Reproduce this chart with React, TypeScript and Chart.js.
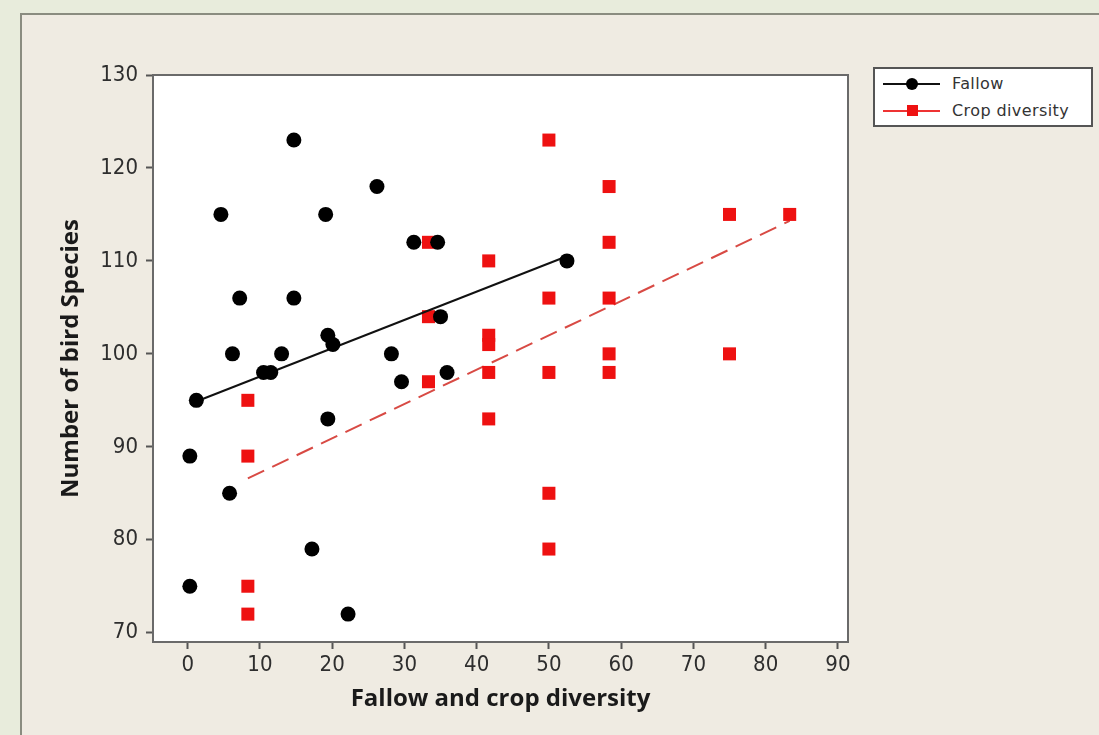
import React, { useEffect, useRef } from "react";
import { Chart, registerables } from "chart.js";
Chart.register(...registerables);

// Fallow (black circles)
const fallowX = [0.3, 0.3, 1.2, 4.6, 5.8, 6.2, 7.2, 10.5, 11.5, 13, 14.7, 14.7, 17.2, 19.1, 19.4, 20.1, 19.4, 22.2, 26.2, 28.2, 29.6, 31.3, 34.6, 35, 35.9, 52.5];
const fallowY = [89, 75, 95, 115, 85, 100, 106, 98, 98, 100, 123, 106, 79, 115, 102, 101, 93, 72, 118, 100, 97, 112, 112, 104, 98, 110];

// Crop diversity (red squares)
const cropX = [8.33, 8.33, 8.33, 8.33, 33.33, 33.33, 33.33, 41.67, 41.67, 41.67, 41.67, 41.67, 50, 50, 50, 50, 50, 58.33, 58.33, 58.33, 58.33, 58.33, 75, 75, 83.33];
const cropY = [95, 89, 75, 72, 112, 104, 97, 110, 102, 101, 98, 93, 123, 106, 98, 85, 79, 118, 112, 106, 100, 98, 115, 100, 115];

// Fitted lines
const fallowFitX = [0.3, 52.5];
const fallowFitY = [94.6, 110.5];
const cropFitX = [8.33, 83.33];
const cropFitY = [86.6, 114.3];

const xMin = -4.8;
const xMax = 91.4;
const yMin = 69;
const yMax = 130;

const seriesNames = ["Fallow", "Crop diversity"];
const xTitle = "Fallow and crop diversity";
const yTitle = "Number of bird Species";

const toPts = (xs: number[], ys: number[]) => xs.map((x, i) => ({ x, y: ys[i] }));

const tickFont = { family: "'Liberation Sans Narrow', 'DejaVu Sans Condensed', 'Liberation Sans', Arial, sans-serif", size: 22 };
const titleFont = { family: "'Open Sans', 'Liberation Sans', Arial, sans-serif", size: 24, weight: "bold" as const };

export default function App() {
  const ref = useRef<HTMLCanvasElement>(null);
  useEffect(() => {
    const canvas = ref.current!;
    const plotFrame = {
      id: "plotFrame",
      beforeDraw(chart: any) {
        const { ctx, chartArea: a } = chart;
        ctx.save();
        ctx.fillStyle = "#ffffff";
        ctx.fillRect(a.left, a.top, a.right - a.left, a.bottom - a.top);
        ctx.restore();
      },
      afterDraw(chart: any) {
        const { ctx, chartArea: a } = chart;
        ctx.save();
        ctx.strokeStyle = "#6a6a6a";
        ctx.lineWidth = 2;
        ctx.strokeRect(a.left, a.top, a.right - a.left, a.bottom - a.top);
        ctx.restore();
      },
    };
    const chart = new Chart(canvas, {
      type: "scatter",
      data: {
        datasets: [
          {
            label: seriesNames[0],
            data: toPts(fallowX, fallowY),
            pointStyle: "circle",
            pointRadius: 7.5,
            backgroundColor: "#000000",
            borderColor: "#000000",
            borderWidth: 0,
            showLine: false,
          },
          {
            label: seriesNames[0] + " fit",
            data: toPts(fallowFitX, fallowFitY),
            showLine: true,
            pointRadius: 0,
            borderColor: "#111111",
            borderWidth: 2,
          },
          {
            label: seriesNames[1],
            data: toPts(cropX, cropY),
            pointStyle: "rect",
            pointRadius: 9.2,
            backgroundColor: "#ee1111",
            borderColor: "#ee1111",
            borderWidth: 0,
            showLine: false,
          },
          {
            label: seriesNames[1] + " fit",
            data: toPts(cropFitX, cropFitY),
            showLine: true,
            pointRadius: 0,
            borderColor: "#d84a44",
            borderWidth: 2,
            borderDash: [18, 9],
          },
        ],
      },
      options: {
        responsive: false,
        animation: false,
        layout: { padding: { left: 50, right: 251, top: 75, bottom: 20 } },
        plugins: { legend: { display: false }, tooltip: { enabled: false } },
        scales: {
          x: {
            type: "linear",
            min: xMin,
            max: xMax,
            ticks: { stepSize: 10, includeBounds: false, font: tickFont, color: "#2e2e2e", padding: 3, maxRotation: 0 },
            grid: { drawOnChartArea: false, drawTicks: true, tickLength: 7, tickWidth: 2, tickColor: "#555" },
            border: { display: true, color: "#6a6a6a", width: 2 },
            title: { display: true, text: xTitle, font: titleFont, color: "#1a1a1a", padding: { top: 0, bottom: 1 } },
            afterFit: (s: any) => { s.height = 73; },
          },
          y: {
            type: "linear",
            min: yMin,
            max: yMax,
            ticks: { stepSize: 10, includeBounds: false, font: tickFont, color: "#2e2e2e", padding: 8 },
            grid: { drawOnChartArea: false, drawTicks: true, tickLength: 7, tickWidth: 2, tickColor: "#555" },
            border: { display: true, color: "#6a6a6a", width: 2 },
            title: { display: true, text: yTitle, font: titleFont, color: "#1a1a1a", padding: { top: 7, bottom: 0 } },
            afterFit: (s: any) => { s.width = 103; },
          },
        },
      },
      plugins: [plotFrame],
    } as any);
    return () => chart.destroy();
  }, []);

  const legendText: React.CSSProperties = {
    position: "absolute",
    left: 77,
    fontFamily: "'DejaVu Sans', Verdana, sans-serif",
    fontSize: 16,
    letterSpacing: 0.4,
    color: "#333",
    lineHeight: "18px",
    whiteSpace: "nowrap",
  };

  return (
    <div style={{ position: "fixed", left: 0, top: 0, width: 1099, height: 735, background: "#e8ecdc", overflow: "hidden" }}>
      <div style={{ position: "absolute", left: 20, top: 13, width: 1100, height: 740, borderLeft: "2px solid #8a8c80", borderTop: "2px solid #8a8c80", background: "#efebe2" }} />
      <canvas ref={ref} width={1099} height={735} style={{ position: "absolute", left: 0, top: 0 }} />
      <div style={{ position: "absolute", left: 873, top: 67, width: 216, height: 56, border: "2px solid #555", background: "#fff" }}>
        <div style={{ position: "absolute", left: 8, top: 14, width: 57, height: 2, background: "#111" }} />
        <div style={{ position: "absolute", left: 31, top: 9, width: 12, height: 12, borderRadius: 6, background: "#000" }} />
        <div style={{ ...legendText, top: 6 }}>{seriesNames[0]}</div>
        <div style={{ position: "absolute", left: 8, top: 41, width: 57, height: 2, background: "#e33" }} />
        <div style={{ position: "absolute", left: 32, top: 36, width: 11, height: 11, background: "#ee1111" }} />
        <div style={{ ...legendText, top: 33 }}>{seriesNames[1]}</div>
      </div>
    </div>
  );
}
